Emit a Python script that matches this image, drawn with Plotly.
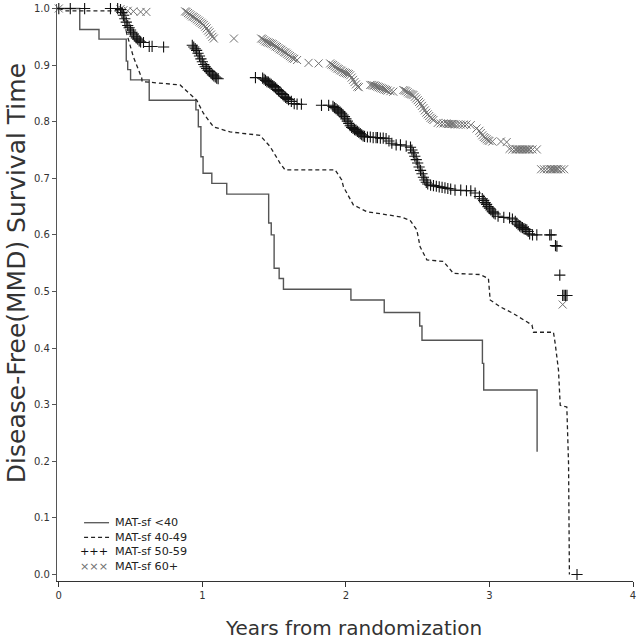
import plotly.graph_objects as go

# ---------------- data (years, survival probability) ----------------
t_lt40 = [0.0, 0.146, 0.28, 0.47, 0.48, 0.50, 0.63, 0.955, 0.972, 0.99, 1.005, 1.066, 1.17,
          1.462, 1.48, 1.50, 1.535, 1.565, 2.035, 2.267, 2.514, 2.53, 2.951, 2.96, 3.332]
s_lt40 = [1.0, 0.963, 0.946, 0.907, 0.892, 0.874, 0.838, 0.821, 0.791, 0.738, 0.709, 0.691, 0.672,
          0.621, 0.600, 0.541, 0.523, 0.504, 0.485, 0.463, 0.439, 0.414, 0.373, 0.326, 0.217]

t_40_49 = [0.0, 0.05, 0.438, 0.473, 0.519, 0.578, 0.58, 0.845, 0.961, 1.007, 1.077, 1.193, 1.402,
           1.472, 1.541, 1.576, 1.925, 1.971, 1.983, 2.052, 2.146, 2.378, 2.447, 2.494, 2.517,
           2.564, 2.68, 2.749, 2.935, 2.993, 3.005, 3.075, 3.167, 3.237, 3.296, 3.307, 3.446,
           3.458, 3.481, 3.493, 3.539, 3.551, 3.557]
s_40_49 = [1.0, 0.996, 0.996, 0.956, 0.915, 0.877, 0.871, 0.865, 0.838, 0.815, 0.791, 0.782, 0.776,
           0.756, 0.727, 0.715, 0.715, 0.697, 0.685, 0.653, 0.641, 0.632, 0.626, 0.609, 0.579,
           0.556, 0.553, 0.532, 0.530, 0.523, 0.485, 0.473, 0.461, 0.450, 0.441, 0.428, 0.428,
           0.408, 0.361, 0.299, 0.296, 0.196, 0.0]

t_50_59 = [0.0, 0.08, 0.18, 0.36, 0.41, 0.43,
           0.44, 0.45, 0.46, 0.47, 0.48, 0.49, 0.50, 0.51, 0.52, 0.53, 0.54, 0.55, 0.56, 0.57, 0.59,
           0.63, 0.65, 0.73,
           0.93, 0.94, 0.95, 0.96, 0.97, 0.98, 0.99, 1.00, 1.01, 1.02, 1.03, 1.04, 1.05, 1.06, 1.07,
           1.08, 1.09, 1.10, 1.11,
           1.37, 1.42, 1.43, 1.44, 1.45, 1.46, 1.47, 1.48, 1.49, 1.50, 1.51, 1.52, 1.53, 1.54, 1.55,
           1.56, 1.57, 1.58, 1.59, 1.60, 1.62, 1.64, 1.66, 1.69, 1.83, 1.88,
           1.91, 1.92, 1.93, 1.94, 1.95, 1.96, 1.97, 1.98, 1.99, 2.00, 2.01, 2.02, 2.03, 2.04, 2.05,
           2.06, 2.07, 2.08, 2.09, 2.10, 2.11, 2.12, 2.13, 2.15, 2.17, 2.19, 2.21, 2.22, 2.24, 2.26,
           2.28, 2.30, 2.32, 2.35, 2.38, 2.42, 2.45, 2.46, 2.47, 2.48, 2.49, 2.50, 2.51, 2.52, 2.53,
           2.54, 2.55, 2.56, 2.57, 2.59, 2.61, 2.63, 2.65, 2.67, 2.69, 2.71, 2.73, 2.76, 2.80, 2.84,
           2.87, 2.90, 2.93, 2.95, 2.96, 2.97, 2.98, 2.99, 3.00, 3.01, 3.02, 3.03, 3.04, 3.06, 3.10,
           3.14, 3.16, 3.18, 3.19, 3.20, 3.21, 3.22, 3.23, 3.24, 3.25, 3.26, 3.27, 3.28, 3.30, 3.33,
           3.42, 3.43, 3.46, 3.47, 3.49, 3.51, 3.52, 3.53, 3.54, 3.61]
s_50_59 = [1.0, 1.0, 1.0, 1.0, 1.0, 0.998,
           0.993, 0.988, 0.982, 0.976, 0.970, 0.966, 0.962, 0.958, 0.955, 0.951, 0.948, 0.946, 0.943,
           0.941, 0.940,
           0.933, 0.933, 0.932,
           0.935, 0.932, 0.929, 0.926, 0.921, 0.916, 0.911, 0.906, 0.901, 0.897, 0.894, 0.891, 0.889,
           0.886, 0.883, 0.881, 0.879, 0.877, 0.876,
           0.878, 0.877, 0.875, 0.873, 0.871, 0.870, 0.868, 0.866, 0.864, 0.862, 0.860, 0.857, 0.855,
           0.853, 0.850, 0.848, 0.845, 0.843, 0.841, 0.839, 0.836, 0.832, 0.831, 0.831, 0.829, 0.829,
           0.827, 0.825, 0.823, 0.821, 0.819, 0.817, 0.815, 0.812, 0.809, 0.805, 0.801, 0.797, 0.793,
           0.790, 0.788, 0.786, 0.785, 0.783, 0.781, 0.779, 0.777, 0.775, 0.774, 0.773, 0.773, 0.772,
           0.772, 0.772, 0.771, 0.771, 0.770, 0.766, 0.762, 0.759, 0.759, 0.757, 0.755, 0.750, 0.745,
           0.739, 0.733, 0.727, 0.720, 0.714, 0.708, 0.702, 0.697, 0.693, 0.690, 0.688, 0.687, 0.686,
           0.685, 0.684, 0.683, 0.682, 0.681, 0.679, 0.679, 0.678, 0.678, 0.674, 0.668, 0.664, 0.661,
           0.657, 0.654, 0.650, 0.647, 0.644, 0.641, 0.639, 0.637, 0.633, 0.631, 0.630, 0.628, 0.624,
           0.621, 0.618, 0.616, 0.614, 0.613, 0.611, 0.610, 0.609, 0.606, 0.602, 0.600, 0.600, 0.600,
           0.600, 0.581, 0.580, 0.529, 0.493, 0.493, 0.493, 0.493, 0.0]

t_60p = [0.0, 0.43, 0.45, 0.48, 0.52, 0.57, 0.61,
         0.88, 0.89, 0.90, 0.91, 0.92, 0.93, 0.94, 0.95, 0.96, 0.97, 0.98, 0.99, 1.00, 1.01, 1.02,
         1.03, 1.04, 1.05, 1.06, 1.07, 1.08, 1.22,
         1.41, 1.42, 1.43, 1.44, 1.45, 1.46, 1.47, 1.48, 1.49, 1.50, 1.51, 1.52, 1.53, 1.54, 1.55,
         1.56, 1.57, 1.58, 1.59, 1.60, 1.61, 1.62, 1.63, 1.64, 1.66, 1.74, 1.81,
         1.89, 1.90, 1.91, 1.92, 1.93, 1.94, 1.95, 1.96, 1.97, 1.98, 1.99, 2.00, 2.01, 2.02, 2.03,
         2.04, 2.05, 2.06, 2.07, 2.08, 2.09,
         2.17, 2.18, 2.19, 2.20, 2.21, 2.22, 2.23, 2.24, 2.25, 2.26, 2.27, 2.28, 2.29, 2.31, 2.33,
         2.40, 2.41, 2.42, 2.43, 2.44, 2.45, 2.46, 2.47, 2.48, 2.49, 2.50, 2.51, 2.52, 2.53, 2.54,
         2.55, 2.56, 2.57, 2.58, 2.59, 2.60, 2.61,
         2.64, 2.66, 2.68, 2.70, 2.71, 2.72, 2.73, 2.74, 2.75, 2.76, 2.78, 2.80, 2.82, 2.84, 2.87,
         2.91, 2.93, 2.94, 2.95, 2.96, 2.97, 2.98, 2.99, 3.00, 3.02, 3.08, 3.12,
         3.14, 3.16, 3.18, 3.19, 3.20, 3.21, 3.22, 3.23, 3.24, 3.25, 3.26, 3.27, 3.28, 3.30, 3.33,
         3.36, 3.38, 3.40, 3.42, 3.43, 3.44, 3.45, 3.46, 3.47, 3.48, 3.50, 3.52, 3.51]
s_60p = [1.0, 0.999, 0.997, 0.996, 0.995, 0.994, 0.994,
         0.995, 0.994, 0.992, 0.990, 0.988, 0.986, 0.985, 0.983, 0.981, 0.979, 0.977, 0.975, 0.973,
         0.971, 0.968, 0.965, 0.961, 0.958, 0.954, 0.950, 0.947, 0.947,
         0.947, 0.946, 0.944, 0.942, 0.941, 0.940, 0.939, 0.938, 0.937, 0.935, 0.933, 0.932, 0.930,
         0.928, 0.927, 0.925, 0.923, 0.922, 0.920, 0.918, 0.916, 0.914, 0.912, 0.911, 0.909, 0.904,
         0.903,
         0.903, 0.901, 0.900, 0.898, 0.896, 0.894, 0.893, 0.891, 0.890, 0.888, 0.887, 0.886, 0.885,
         0.884, 0.882, 0.878, 0.874, 0.870, 0.866, 0.862, 0.861,
         0.865, 0.865, 0.864, 0.864, 0.863, 0.862, 0.861, 0.860, 0.859, 0.858, 0.857, 0.856, 0.855,
         0.854, 0.853,
         0.856, 0.855, 0.854, 0.852, 0.850, 0.849, 0.848, 0.847, 0.844, 0.841, 0.838, 0.835, 0.832,
         0.828, 0.824, 0.820, 0.816, 0.813, 0.810, 0.807, 0.805, 0.803,
         0.798, 0.797, 0.797, 0.797, 0.796, 0.796, 0.796, 0.796, 0.796, 0.795, 0.795, 0.795, 0.795,
         0.795, 0.794,
         0.788, 0.784, 0.780, 0.776, 0.773, 0.771, 0.769, 0.767, 0.766, 0.765, 0.765, 0.764,
         0.752, 0.751, 0.751, 0.751, 0.751, 0.751, 0.751, 0.751, 0.751, 0.751, 0.751, 0.751, 0.751,
         0.751, 0.751,
         0.716, 0.716, 0.716, 0.716, 0.716, 0.716, 0.716, 0.716, 0.716, 0.716, 0.716, 0.716, 0.477]

legend_labels = ["MAT-sf <40", "MAT-sf 40-49", "MAT-sf 50-59", "MAT-sf 60+"]
x_ticks = [0, 1, 2, 3, 4]
y_ticks = [0.0, 0.1, 0.2, 0.3, 0.4, 0.5, 0.6, 0.7, 0.8, 0.9, 1.0]
x_title = "Years from randomization"
y_title = "Disease-Free(MMD) Survival Time"

FONT = "DejaVu Sans"

fig = go.Figure()
fig.add_trace(go.Scatter(x=t_lt40, y=s_lt40, mode="lines", line=dict(shape="hv", color="#555555", width=1.4),
                         showlegend=False))
fig.add_trace(go.Scatter(x=t_40_49, y=s_40_49, mode="lines", line=dict(color="#222222", width=1.3, dash="4px,3px"),
                         showlegend=False))
fig.add_trace(go.Scatter(x=t_60p, y=s_60p, mode="markers", cliponaxis=False,
                         marker=dict(symbol="x-thin", size=8, line=dict(width=1, color="#707070")),
                         showlegend=False))
fig.add_trace(go.Scatter(x=t_50_59, y=s_50_59, mode="markers", cliponaxis=False,
                         marker=dict(symbol="cross-thin", size=8, line=dict(width=1.1, color="#111111")),
                         showlegend=False))

# manual legend (inside, bottom-left)
leg_y = [0.0915, 0.0657, 0.0403, 0.015]
x0s, x1s, xt = 0.176, 0.35, 0.385
fig.add_shape(type="line", x0=x0s, x1=x1s, y0=leg_y[0], y1=leg_y[0], line=dict(color="#555555", width=1.3))
fig.add_shape(type="line", x0=x0s, x1=x1s, y0=leg_y[1], y1=leg_y[1], line=dict(color="#222222", width=1.2, dash="4px,3px"))
fig.add_annotation(x=x1s, y=(leg_y[2] + leg_y[3]) / 2, showarrow=False, xanchor="right", yanchor="middle",
                   text="<span style='color:#111111'>+++</span><br><span style='color:#707070'>×××</span>",
                   font=dict(family=FONT, size=11.2), borderpad=0)
fig.add_annotation(x=xt, y=sum(leg_y) / 4, showarrow=False, xanchor="left", yanchor="middle",
                   align="left", text="<br>".join(legend_labels), borderpad=0,
                   font=dict(family=FONT, size=11.2, color="#222222"))

# axis titles as annotations for exact placement
fig.add_annotation(xref="paper", yref="paper", x=0.515, y=-0.0815, text=x_title, showarrow=False,
                   xanchor="center", yanchor="middle", font=dict(family=FONT, size=20, color="#333333"))
fig.add_annotation(xref="paper", yref="paper", x=-0.069, y=0.534, text=y_title, showarrow=False,
                   textangle=-90, xanchor="center", yanchor="middle",
                   font=dict(family=FONT, size=25, color="#333333"))

fig.update_layout(
    width=638, height=639,
    margin=dict(l=57, r=5, t=4, b=58),
    plot_bgcolor="white", paper_bgcolor="white",
    font=dict(family=FONT, color="#222222"),
    xaxis=dict(range=[-0.0125, 4.0], tickvals=x_ticks, ticktext=[str(v) for v in x_ticks],
               automargin=False, ticklabeloverflow="allow",
               showgrid=False, zeroline=False, showline=True, linecolor="#333333", linewidth=1.3,
               ticks="outside", ticklen=5, tickcolor="#333333", tickfont=dict(size=10, color="#333333")),
    yaxis=dict(range=[-0.0115, 1.008], tickvals=y_ticks, tickformat=".1f",
               automargin=False, ticklabeloverflow="allow",
               showgrid=False, zeroline=False, showline=True, linecolor="#555555", linewidth=1.3,
               ticks="outside", ticklen=4, tickcolor="#555555", tickfont=dict(size=10, color="#333333")),
)

fig.write_html("out.html", config={"displayModeBar": False},
               post_script="document.body.style.margin='0';document.body.style.overflow='hidden';")
